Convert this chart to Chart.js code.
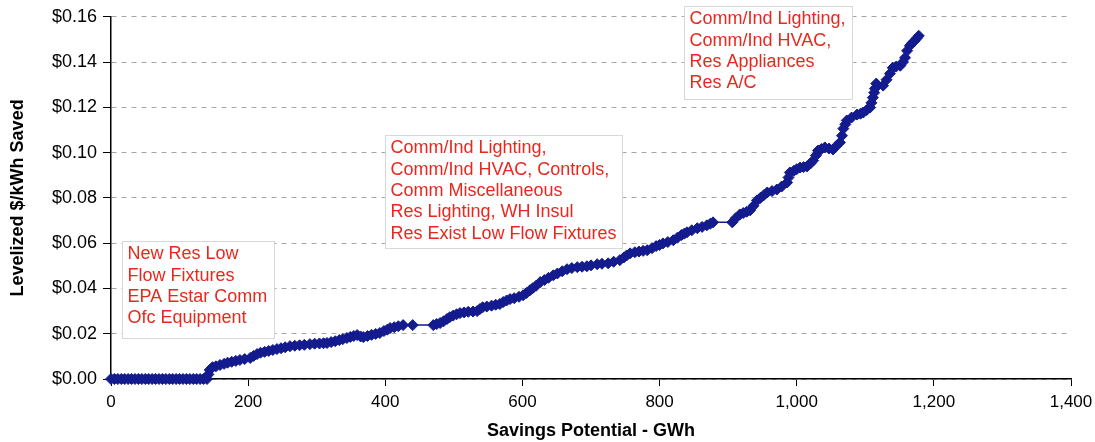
<!DOCTYPE html>
<html>
<head>
<meta charset="utf-8">
<script src="https://cdn.jsdelivr.net/npm/chart.js@4/dist/chart.umd.min.js"></script>
<style>
  html, body { margin: 0; padding: 0; background: #fff; }
  #wrap { width: 1095px; height: 442px; position: relative; }
</style>
</head>
<body>
<div id="wrap"><canvas id="curve"></canvas></div>
<script>
// cumulative savings (GWh) and levelized cost ($/kWh) of each measure
const savingsGWh = [
  0, 5, 10, 15, 20, 25, 30, 35, 40, 45, 50, 55, 60, 65, 70, 75, 80, 85, 90, 95,
  100, 105, 110, 115, 120, 125, 130, 135, 140,
  142, 144, 148, 153, 159, 165, 170, 176, 182, 188, 195, 203, 208, 213, 218, 224,
  230, 236, 242, 248, 254, 261, 268, 275, 282, 290, 297, 304, 310, 315, 321, 327,
  333, 338, 344, 349, 354, 359, 364, 368, 374, 380, 386, 392, 398, 403, 407, 413,
  419, 426, 440, 470, 475, 480, 485, 490, 494, 499, 504, 509, 515, 521, 528, 534,
  538, 542, 548, 555, 561, 567, 572, 577, 582, 588, 595, 601, 606, 611, 615, 620,
  626, 632, 638, 645, 651, 658, 665, 672, 680, 687, 694, 700, 709, 716, 725, 733,
  742, 748, 752, 757, 764, 770, 776, 782, 789, 795, 800, 805, 812, 820, 826, 832,
  836, 840, 847, 855, 862, 869, 874, 878, 906, 911, 917, 922, 927, 932, 937, 942,
  947, 952, 957, 964, 971, 978, 986, 988, 990, 996, 1000, 1005, 1010, 1015, 1020,
  1024, 1028, 1031, 1036, 1041, 1047, 1053, 1058, 1063, 1066, 1068, 1071, 1073,
  1080, 1088, 1093, 1097, 1102, 1107, 1109, 1111, 1113, 1114, 1116, 1126, 1131,
  1136, 1140, 1145, 1151, 1155, 1158, 1161, 1165, 1168, 1172, 1175, 1178
];
const costPerKWh = [
  0, 0, 0, 0, 0, 0, 0, 0, 0, 0, 0, 0, 0, 0, 0, 0, 0, 0, 0, 0,
  0, 0, 0, 0, 0, 0, 0, 0, 0,
  0.002, 0.004, 0.0052, 0.0056, 0.0062, 0.0067, 0.0072, 0.0076, 0.0080, 0.0084, 0.0088, 0.0093, 0.0102, 0.0110, 0.0116, 0.0120,
  0.0124, 0.0128, 0.0132, 0.0136, 0.0140, 0.0145, 0.0147, 0.0149, 0.0151, 0.0154, 0.0156, 0.0157, 0.0158, 0.0159, 0.0163, 0.0167,
  0.0172, 0.0176, 0.0181, 0.0186, 0.0190, 0.0194, 0.0188, 0.0185, 0.0190, 0.0195, 0.0199, 0.0203, 0.0212, 0.0218, 0.0225, 0.0229,
  0.0233, 0.0238, 0.0238, 0.0238, 0.0243, 0.0247, 0.0255, 0.0265, 0.0273, 0.0280, 0.0286, 0.0291, 0.0294, 0.0297, 0.0298, 0.0300,
  0.0309, 0.0317, 0.0320, 0.0324, 0.0328, 0.0331, 0.0340, 0.0347, 0.0353, 0.0357, 0.0363, 0.0370, 0.0380, 0.0392, 0.0401, 0.0412,
  0.0428, 0.0437, 0.0447, 0.0458, 0.0466, 0.0476, 0.0485, 0.0490, 0.0494, 0.0496, 0.0498, 0.0502, 0.0507, 0.0509, 0.0511, 0.0518,
  0.0525, 0.0537, 0.0546, 0.0555, 0.0560, 0.0563, 0.0566, 0.0569, 0.0578, 0.0587, 0.0592, 0.0599, 0.0605, 0.0613, 0.0624, 0.0636,
  0.0642, 0.0648, 0.0657, 0.0666, 0.0672, 0.0679, 0.0686, 0.0692, 0.0692, 0.0710, 0.0727, 0.0733, 0.0739, 0.0745, 0.0765, 0.0789,
  0.0800, 0.0812, 0.0824, 0.0830, 0.0837, 0.0850, 0.0868, 0.0890, 0.0912, 0.0920, 0.0927, 0.0934, 0.0936, 0.0939, 0.0952,
  0.0965, 0.0987, 0.1009, 0.1016, 0.1023, 0.1018, 0.1014, 0.1030, 0.1045, 0.1075, 0.1106, 0.1125, 0.1142,
  0.1155, 0.1168, 0.1172, 0.1177, 0.1188, 0.1199, 0.1220, 0.1243, 0.1265, 0.1283, 0.1305, 0.1296, 0.1322,
  0.1349, 0.1375, 0.1380, 0.1384, 0.1400, 0.1419, 0.1450, 0.1472, 0.1483, 0.1494, 0.1505, 0.1516
];

const xTicksMax = 1400;
const yTicksMax = 0.16;

// text boxes: corner positions in data units (GWh, $/kWh)
const noteLines = [
  ["New Res Low", "Flow Fixtures", "EPA Estar Comm", "Ofc Equipment"],
  ["Comm/Ind Lighting,", "Comm/Ind HVAC, Controls,", "Comm Miscellaneous", "Res Lighting, WH Insul", "Res Exist Low Flow Fixtures"],
  ["Comm/Ind Lighting,", "Comm/Ind HVAC,", "Res Appliances", "Res A/C"]
];
const noteBoxes = [
  { x0: 16, x1: 238, yTop: 0.0608, yBot: 0.0181 },
  { x0: 400, x1: 745, yTop: 0.1080, yBot: 0.0577 },
  { x0: 836, x1: 1081, yTop: 0.1648, yBot: 0.1237 }
];

const NAVY = "#131b8e";
const RED = "#e8281e";
const FONT = "'Liberation Sans', Arial, sans-serif";

const points = savingsGWh.map((x, i) => ({ x: x, y: costPerKWh[i] }));

const notesPlugin = {
  id: "notes",
  afterDraw(chart) {
    const ctx = chart.ctx;
    const xs = chart.scales.x, ys = chart.scales.y;
    ctx.save();
    ctx.font = "18px " + FONT;
    ctx.textAlign = "left";
    ctx.textBaseline = "middle";
    noteBoxes.forEach((b, k) => {
      const l = Math.round(xs.getPixelForValue(b.x0)) + 0.5;
      const r = Math.round(xs.getPixelForValue(b.x1)) + 0.5;
      const t = Math.round(ys.getPixelForValue(b.yTop)) + 0.5;
      const bt = Math.round(ys.getPixelForValue(b.yBot)) + 0.5;
      ctx.fillStyle = "#fff";
      ctx.fillRect(l, t, r - l, bt - t);
      ctx.strokeStyle = "#d8d8d8";
      ctx.lineWidth = 1;
      ctx.strokeRect(l, t, r - l, bt - t);
      ctx.fillStyle = RED;
      noteLines[k].forEach((line, j) => {
        ctx.fillText(line, l + 5, t + 13 + j * 21.3);
      });
    });
    ctx.restore();
  }
};

new Chart(document.getElementById("curve"), {
  type: "line",
  data: {
    datasets: [{
      data: points,
      borderColor: NAVY,
      backgroundColor: NAVY,
      borderWidth: 1.5,
      pointStyle: "rectRot",
      pointRadius: 5.5,
      pointBorderWidth: 1,
      pointBorderColor: NAVY,
      pointBackgroundColor: NAVY,
      tension: 0,
      clip: false
    }]
  },
  options: {
    responsive: true,
    maintainAspectRatio: false,
    animation: false,
    events: [],
    layout: { padding: { top: 16, right: 24, left: 0, bottom: 0 } },
    plugins: { legend: { display: false }, tooltip: { enabled: false } },
    scales: {
      x: {
        type: "linear",
        min: 0,
        max: xTicksMax,
        afterFit: s => { s.height = 63; s.paddingLeft = 0; s.paddingRight = 0; },
        ticks: {
          stepSize: 200,
          padding: 6,
          color: "#000",
          font: { family: FONT, size: 17 },
          callback: v => v.toLocaleString("en-US"),
          maxRotation: 0
        },
        grid: { drawOnChartArea: false, drawTicks: true, tickLength: 7, tickColor: "#000" },
        border: { color: "#000", width: 1.5 },
        title: {
          display: true,
          text: "Savings Potential - GWh",
          color: "#000",
          font: { family: FONT, size: 18, weight: "bold" },
          padding: { top: 0, bottom: 0 }
        }
      },
      y: {
        min: 0,
        max: yTicksMax,
        afterFit: s => { s.width = 111; },
        ticks: {
          stepSize: 0.02,
          padding: 6,
          color: "#000",
          font: { family: FONT, size: 18 },
          callback: v => "$" + v.toFixed(2)
        },
        grid: { color: "#a6a6a6", lineWidth: 1, drawTicks: true, tickLength: 8, tickColor: "#000" },
        border: { color: "#000", width: 1.5, dash: [5, 5] },
        title: {
          display: true,
          text: "Levelized $/kWh Saved",
          color: "#000",
          font: { family: FONT, size: 18, weight: "bold" },
          padding: { top: 7, bottom: 0 }
        }
      }
    }
  },
  plugins: [notesPlugin]
});
</script>
</body>
</html>
